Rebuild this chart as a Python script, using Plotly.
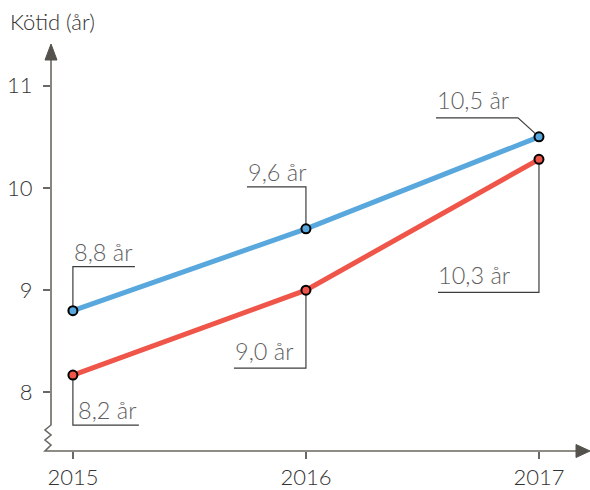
import plotly.graph_objects as go

years = [2015, 2016, 2017]
blue_values = [8.8, 9.6, 10.5]
red_values = [8.17, 9.0, 10.28]
blue_labels = ["8,8 år", "9,6 år", "10,5 år"]
red_labels = ["8,2 år", "9,0 år", "10,3 år"]
y_ticks = [8, 9, 10, 11]
x_ticks = [2015, 2016, 2017]
y_title = "Kötid (år)"

BLUE = "#58a7dd"
RED = "#ef5649"
AXIS = "#6b6762"
LEADER = "#3d3d3d"
LABEL = "#5f5f5f"
FONT = "Lato"

fig = go.Figure()
for vals, col in [(blue_values, BLUE), (red_values, RED)]:
    fig.add_trace(go.Scatter(
        x=years, y=vals, mode="lines+markers",
        line=dict(color=col, width=5),
        marker=dict(size=9, color=col, line=dict(color="black", width=2)),
        hoverinfo="skip", showlegend=False, cliponaxis=False))

# leader geometry (pixel offsets from each point): (dx_corner, dy_corner, dx_end, text_xshift, text_yshift)
blue_leaders = [(0, 44, 62, -1, 43), (0, 42, -59, -60, 41), (-21, 19, -103, -104, 21)]
red_leaders = [(0, -50, 66, 3, -51), (0, -78, -72, -73, -77), (0, -133, -101, -103, -132)]

shapes = []
annotations = []
for vals, labels, leaders in [(blue_values, blue_labels, blue_leaders), (red_values, red_labels, red_leaders)]:
    for x, y, lab, (cx, cy, ex, tx, ty) in zip(years, vals, labels, leaders):
        shapes.append(dict(type="path", xref="x", yref="y", xsizemode="pixel", ysizemode="pixel",
                           xanchor=x, yanchor=y, layer="below",
                           path=f"M0,0 L{cx},{cy} L{ex},{cy}",
                           line=dict(color=LEADER, width=1.2)))
        annotations.append(dict(x=x, y=y, xref="x", yref="y", text=lab, showarrow=False,
                                xanchor="left", yanchor="bottom", xshift=tx, yshift=ty,
                                font=dict(family=FONT, size=23.5, color=LABEL, weight=300)))

# axes with arrows and break
shapes.append(dict(type="path", xref="paper", yref="paper", xsizemode="pixel", ysizemode="pixel",
                   xanchor=0, yanchor=0,
                   path="M0,392 L0,26 L-6,21 L0,16 L-6,11 L0,6 L-6,0 L527,0",
                   line=dict(color=AXIS, width=1.6)))
shapes.append(dict(type="path", xref="paper", yref="paper", xsizemode="pixel", ysizemode="pixel",
                   xanchor=0, yanchor=0, path="M-6,391 L0,407 L6,391 Z",
                   fillcolor="#55524d", line=dict(color="#55524d", width=1)))
shapes.append(dict(type="path", xref="paper", yref="paper", xsizemode="pixel", ysizemode="pixel",
                   xanchor=0, yanchor=0, path="M525,-6.5 L539,0 L525,6.5 Z",
                   fillcolor="#55524d", line=dict(color="#55524d", width=1)))

annotations.append(dict(x=0, y=1, xref="paper", yref="paper", text=y_title, showarrow=False,
                        xanchor="left", yanchor="bottom", xshift=-43, yshift=10,
                        font=dict(family=FONT, size=22, color="#333333", weight=300)))

fig.update_layout(
    width=590, height=490,
    margin=dict(l=51, r=0, t=47, b=36),
    paper_bgcolor="white", plot_bgcolor="white",
    shapes=shapes, annotations=annotations,
    xaxis=dict(range=[2014.906, 2017.219], tickvals=x_ticks, ticktext=[str(v) for v in x_ticks],
               showgrid=False, zeroline=False, showline=False,
               ticks="outside", ticklen=7, tickwidth=1.6, tickcolor=AXIS,
               tickfont=dict(family=FONT, size=22, color="#333333", weight=300)),
    yaxis=dict(range=[7.427, 11.379], tickvals=y_ticks, ticktext=[str(v) for v in y_ticks],
               showgrid=False, zeroline=False, showline=False,
               ticks="outside", ticklen=7, tickwidth=1.6, tickcolor=AXIS,
               ticklabelstandoff=6,
               tickfont=dict(family=FONT, size=22, color="#333333", weight=300)),
)

fig.write_html("out.html")
